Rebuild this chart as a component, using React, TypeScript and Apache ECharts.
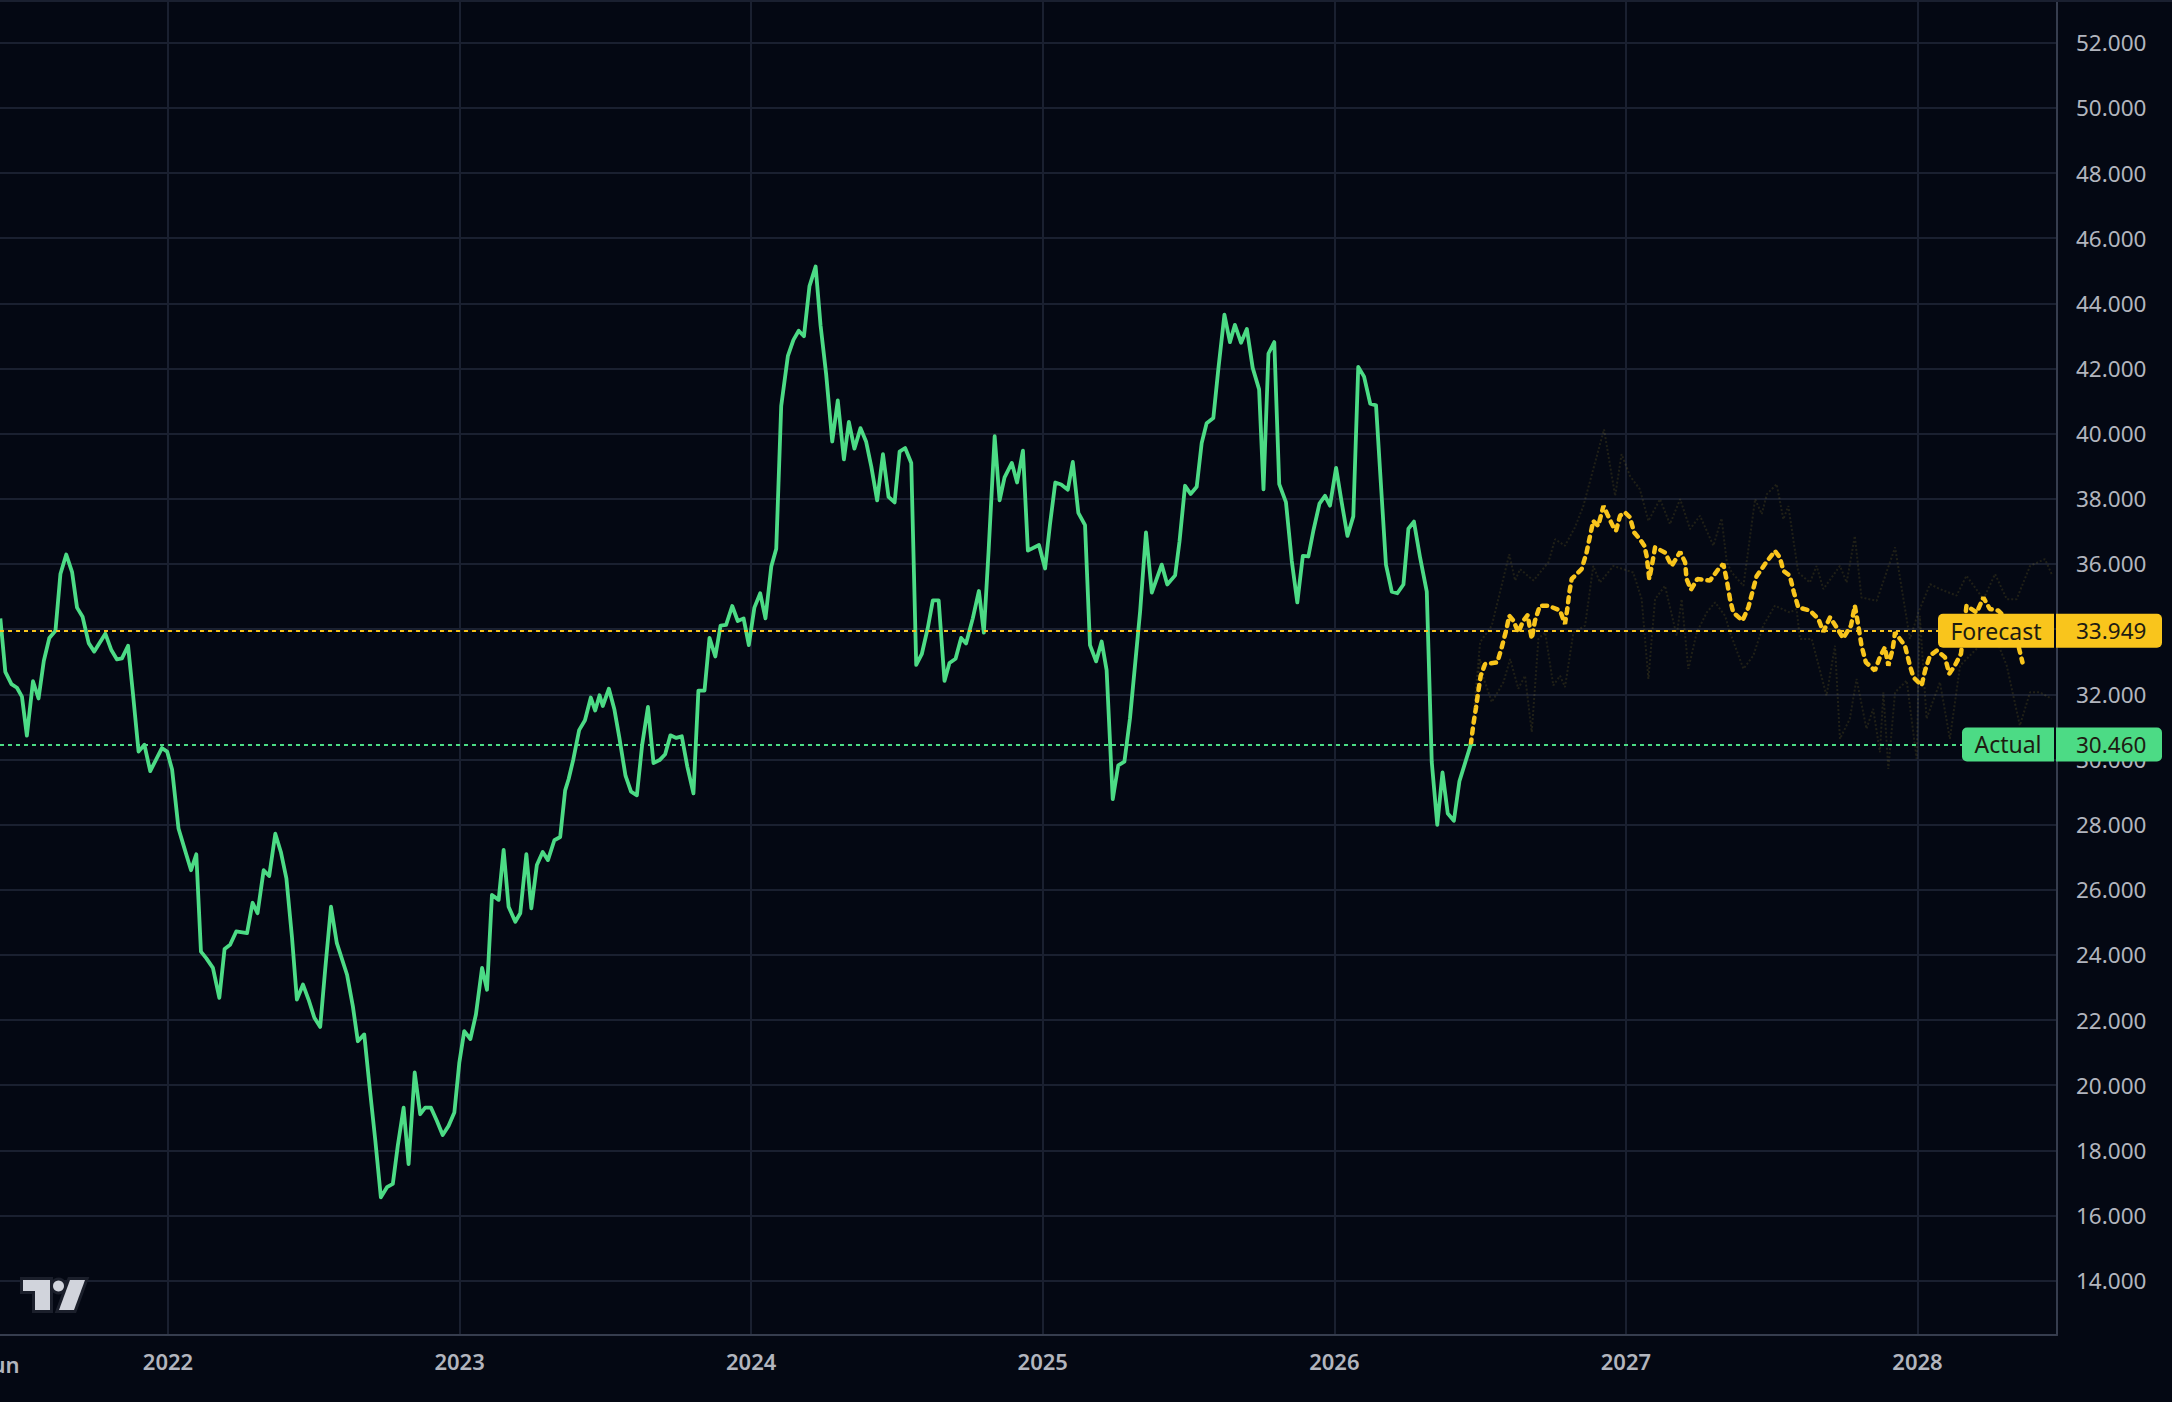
import React, { useEffect, useRef } from 'react';
import * as echarts from 'echarts';

// ---------- data ----------
const yearTicks = [2022, 2023, 2024, 2025, 2026, 2027, 2028];
const monthTick = 2021.4137; // 1 Jun 2021
const monthLabel = 'Jun';
const priceTicks = [14, 16, 18, 20, 22, 24, 26, 28, 30, 32, 34, 36, 38, 40, 42, 44, 46, 48, 50, 52];
const X_MIN = 2021.4238;
const X_MAX = 2028.4784;
const Y_MIN = 12.333;
const Y_MAX = 53.311;
const forecastLast = 33.949;
const actualLast = 30.46;
const forecastName = 'Forecast';
const actualName = 'Actual';

const actual2021 = [
  [2021.425, 34.33], [2021.442, 32.69], [2021.463, 32.31], [2021.482, 32.2], [2021.499, 31.93], [2021.516, 30.73],
  [2021.537, 32.4], [2021.556, 31.87], [2021.574, 33.02], [2021.593, 33.73], [2021.614, 33.95], [2021.631, 35.69],
  [2021.651, 36.29], [2021.671, 35.75], [2021.688, 34.66], [2021.707, 34.38], [2021.728, 33.57], [2021.747, 33.31],
  [2021.785, 33.86], [2021.806, 33.35], [2021.825, 33.07], [2021.842, 33.1], [2021.863, 33.49], [2021.879, 32.09],
  [2021.899, 30.24], [2021.919, 30.45], [2021.939, 29.64], [2021.979, 30.35], [2021.997, 30.24],
];
const actual2022 = [
  [2022.014, 29.69], [2022.036, 27.88], [2022.053, 27.37], [2022.079, 26.6], [2022.097, 27.09], [2022.113, 24.1],
  [2022.131, 23.9], [2022.154, 23.6], [2022.176, 22.68], [2022.194, 24.18], [2022.213, 24.31], [2022.234, 24.72],
  [2022.271, 24.67], [2022.29, 25.6], [2022.307, 25.28], [2022.328, 26.6], [2022.347, 26.42], [2022.368, 27.72],
  [2022.387, 27.16], [2022.406, 26.35], [2022.425, 24.56], [2022.442, 22.63], [2022.463, 23.09], [2022.482, 22.63],
  [2022.502, 22.07], [2022.522, 21.79], [2022.539, 23.55], [2022.559, 25.48], [2022.579, 24.36], [2022.614, 23.39],
  [2022.634, 22.42], [2022.651, 21.35], [2022.673, 21.56], [2022.691, 19.98], [2022.711, 18.3], [2022.73, 16.56],
  [2022.751, 16.87], [2022.771, 16.97], [2022.788, 18.14], [2022.808, 19.31], [2022.825, 17.58], [2022.846, 20.39],
  [2022.865, 19.11], [2022.882, 19.31], [2022.902, 19.31], [2022.922, 18.91], [2022.942, 18.47], [2022.962, 18.75],
  [2022.982, 19.16], [2022.999, 20.69],
];
const actual2023 = [
  [2023.016, 21.66], [2023.037, 21.42], [2023.056, 22.17], [2023.077, 23.6], [2023.094, 22.93], [2023.111, 25.84],
  [2023.134, 25.69], [2023.151, 27.22], [2023.168, 25.48], [2023.191, 25.02], [2023.208, 25.28], [2023.229, 27.09],
  [2023.246, 25.43], [2023.265, 26.76], [2023.285, 27.16], [2023.303, 26.91], [2023.325, 27.52], [2023.345, 27.62],
  [2023.362, 29.05], [2023.374, 29.4], [2023.39, 30.0], [2023.41, 30.9], [2023.43, 31.2], [2023.45, 31.9],
  [2023.465, 31.5], [2023.48, 31.97], [2023.491, 31.64], [2023.512, 32.17], [2023.531, 31.53], [2023.548, 30.66],
  [2023.569, 29.5], [2023.588, 29.01], [2023.608, 28.9], [2023.626, 30.44], [2023.646, 31.61], [2023.665, 29.89],
  [2023.686, 29.98], [2023.705, 30.16], [2023.723, 30.74], [2023.743, 30.66], [2023.762, 30.71], [2023.781, 29.78],
  [2023.802, 28.96], [2023.819, 32.11], [2023.84, 32.11], [2023.857, 33.73], [2023.877, 33.16], [2023.895, 34.11],
  [2023.914, 34.13], [2023.935, 34.71], [2023.954, 34.25], [2023.974, 34.33], [2023.992, 33.51],
];
const actual2024 = [
  [2024.011, 34.66], [2024.031, 35.1], [2024.049, 34.33], [2024.069, 35.92], [2024.086, 36.47], [2024.103, 40.85],
  [2024.126, 42.39], [2024.145, 42.88], [2024.163, 43.16], [2024.181, 42.99], [2024.2, 44.53], [2024.221, 45.13],
  [2024.238, 43.32], [2024.257, 41.84], [2024.278, 39.76], [2024.297, 41.02], [2024.318, 39.21], [2024.335, 40.36],
  [2024.354, 39.54], [2024.375, 40.17], [2024.394, 39.76], [2024.412, 38.99], [2024.432, 37.95], [2024.452, 39.37],
  [2024.471, 38.06], [2024.492, 37.89], [2024.509, 39.45], [2024.528, 39.56], [2024.549, 39.1], [2024.566, 32.9],
  [2024.585, 33.23], [2024.606, 34.05], [2024.623, 34.88], [2024.643, 34.88], [2024.663, 32.41], [2024.68, 32.96],
  [2024.701, 33.09], [2024.72, 33.73], [2024.737, 33.56], [2024.76, 34.33], [2024.781, 35.17], [2024.798, 33.89],
  [2024.814, 36.36], [2024.835, 39.92], [2024.852, 37.95], [2024.869, 38.66], [2024.894, 39.1], [2024.912, 38.5],
  [2024.932, 39.48], [2024.949, 36.41], [2024.987, 36.58],
];
const actual2025 = [
  [2025.008, 35.86], [2025.025, 37.23], [2025.043, 38.5], [2025.063, 38.44], [2025.086, 38.28], [2025.103, 39.13],
  [2025.122, 37.57], [2025.145, 37.19], [2025.162, 33.51], [2025.183, 33.01], [2025.202, 33.62], [2025.219, 32.74],
  [2025.24, 28.78], [2025.259, 29.82], [2025.28, 29.93], [2025.299, 31.25], [2025.334, 34.55], [2025.354, 36.97],
  [2025.374, 35.12], [2025.408, 35.98], [2025.427, 35.37], [2025.454, 35.65], [2025.469, 36.69], [2025.488, 38.4],
  [2025.507, 38.15], [2025.528, 38.37], [2025.545, 39.71], [2025.562, 40.32], [2025.585, 40.48], [2025.602, 41.97],
  [2025.623, 43.65], [2025.642, 42.81], [2025.659, 43.34], [2025.68, 42.79], [2025.7, 43.21], [2025.72, 42.02],
  [2025.742, 41.36], [2025.757, 38.29], [2025.774, 42.46], [2025.794, 42.81], [2025.811, 38.45], [2025.834, 37.9],
  [2025.854, 36.09], [2025.873, 34.82], [2025.892, 36.25], [2025.911, 36.23], [2025.928, 37.02], [2025.949, 37.85],
  [2025.968, 38.09], [2025.985, 37.79],
];
const actual2026 = [
  [2026.006, 38.95], [2026.025, 37.9], [2026.045, 36.86], [2026.065, 37.46], [2026.082, 42.05], [2026.102, 41.75],
  [2026.123, 40.92], [2026.143, 40.87], [2026.157, 38.84], [2026.177, 35.98], [2026.197, 35.15], [2026.216, 35.1],
  [2026.237, 35.37], [2026.254, 37.08], [2026.273, 37.3], [2026.294, 36.2], [2026.317, 35.15], [2026.334, 29.93],
  [2026.353, 27.99], [2026.371, 29.6], [2026.389, 28.34], [2026.41, 28.12], [2026.429, 29.33], [2026.468, 30.46],
];

const forecast2026 = [
  [2026.468, 30.46], [2026.477, 31.09], [2026.486, 31.6], [2026.494, 32.11], [2026.502, 32.57], [2026.517, 32.93],
  [2026.559, 32.98], [2026.574, 33.44], [2026.589, 33.95], [2026.6, 34.41], [2026.614, 34.26], [2026.631, 33.9],
  [2026.648, 34.26], [2026.663, 34.43], [2026.677, 33.7], [2026.688, 34.26], [2026.705, 34.72], [2026.734, 34.72],
  [2026.774, 34.57], [2026.791, 34.16], [2026.799, 34.62], [2026.806, 35.13], [2026.814, 35.54], [2026.848, 35.84],
  [2026.865, 36.35], [2026.877, 36.86], [2026.888, 37.32], [2026.905, 37.17], [2026.923, 37.78], [2026.936, 37.53],
  [2026.955, 37.17], [2026.966, 37.02], [2026.98, 37.48], [2026.997, 37.58],
];
const forecast2027 = [
  [2027.014, 37.43], [2027.028, 36.97], [2027.048, 36.76], [2027.063, 36.56], [2027.071, 36.25], [2027.08, 35.54],
  [2027.09, 36.0], [2027.1, 36.51], [2027.134, 36.35], [2027.157, 35.94], [2027.186, 36.37], [2027.203, 36.05],
  [2027.208, 35.54], [2027.223, 35.21], [2027.245, 35.54], [2027.288, 35.49], [2027.317, 35.84], [2027.334, 36.0],
  [2027.346, 35.49], [2027.357, 34.92], [2027.368, 34.51], [2027.4, 34.26], [2027.42, 34.67], [2027.435, 35.18],
  [2027.448, 35.62], [2027.477, 36.0], [2027.511, 36.4], [2027.528, 36.2], [2027.54, 35.79], [2027.562, 35.64],
  [2027.576, 35.13], [2027.591, 34.67], [2027.631, 34.57], [2027.66, 34.31], [2027.677, 33.92], [2027.7, 34.36],
  [2027.723, 34.05], [2027.745, 33.72], [2027.772, 34.11], [2027.785, 34.72], [2027.797, 34.11], [2027.808, 33.49],
  [2027.823, 32.98], [2027.854, 32.73], [2027.871, 33.14], [2027.888, 33.44], [2027.9, 32.88], [2027.915, 33.39],
  [2027.923, 33.9], [2027.957, 33.49], [2027.974, 32.88], [2027.986, 32.52],
];
const forecast2028 = [
  [2028.014, 32.27], [2028.026, 32.73], [2028.043, 33.19], [2028.066, 33.34], [2028.094, 33.14], [2028.109, 32.63],
  [2028.128, 32.88], [2028.149, 33.24], [2028.168, 34.72], [2028.203, 34.51], [2028.226, 34.97], [2028.248, 34.62],
  [2028.277, 34.57], [2028.306, 34.3], [2028.346, 33.49], [2028.36, 32.98],
];

const scenarioHigh = [
  [2026.468, 30.46], [2026.5, 33.6], [2026.54, 34.11], [2026.6, 36.3], [2026.62, 35.49], [2026.637, 35.84],
  [2026.683, 35.49], [2026.734, 36.05], [2026.757, 36.76], [2026.791, 36.56], [2026.825, 37.12], [2026.854, 37.78],
  [2026.888, 38.91], [2026.925, 40.13], [2026.963, 38.09], [2026.985, 39.37], [2027.014, 38.7], [2027.048, 38.29],
  [2027.077, 37.32], [2027.117, 37.99], [2027.151, 37.22], [2027.186, 37.99], [2027.22, 37.07], [2027.254, 37.48],
  [2027.3, 36.56], [2027.328, 37.4], [2027.346, 36.05], [2027.363, 35.74], [2027.403, 35.33], [2027.443, 37.99],
  [2027.466, 37.53], [2027.483, 38.14], [2027.517, 38.45], [2027.54, 37.37], [2027.557, 37.78], [2027.591, 35.74],
  [2027.631, 35.43], [2027.654, 35.94], [2027.677, 35.23], [2027.734, 35.94], [2027.757, 35.43], [2027.785, 36.86],
  [2027.808, 34.97], [2027.86, 34.87], [2027.923, 36.51], [2027.974, 33.7], [2028.003, 34.51], [2028.043, 35.38],
  [2028.077, 35.23], [2028.134, 35.03], [2028.168, 35.64], [2028.226, 34.92], [2028.266, 35.69], [2028.306, 34.92],
  [2028.34, 34.92], [2028.386, 35.94], [2028.437, 36.15], [2028.46, 35.69],
];
const scenarioLow = [
  [2026.468, 30.46], [2026.5, 33.08], [2026.511, 32.52], [2026.54, 31.76], [2026.58, 32.37], [2026.603, 33.08],
  [2026.631, 32.17], [2026.654, 32.57], [2026.677, 30.84], [2026.7, 33.7], [2026.723, 33.9], [2026.751, 32.27],
  [2026.774, 32.57], [2026.791, 32.22], [2026.82, 33.9], [2026.86, 34.11], [2026.888, 35.94], [2026.911, 35.43],
  [2026.957, 35.94], [2026.991, 35.84], [2027.025, 35.74], [2027.054, 34.92], [2027.077, 32.47], [2027.1, 34.92],
  [2027.134, 35.33], [2027.174, 33.8], [2027.191, 34.92], [2027.214, 32.78], [2027.243, 33.9], [2027.277, 34.51],
  [2027.306, 34.82], [2027.34, 34.41], [2027.357, 33.9], [2027.403, 32.78], [2027.437, 33.19], [2027.471, 34.11],
  [2027.511, 34.72], [2027.562, 34.51], [2027.585, 34.62], [2027.597, 33.7], [2027.637, 33.7], [2027.688, 31.96],
  [2027.717, 33.49], [2027.734, 30.63], [2027.768, 31.25], [2027.791, 32.47], [2027.825, 30.94], [2027.848, 31.55],
  [2027.871, 30.22], [2027.883, 32.06], [2027.9, 29.71], [2027.923, 32.06], [2027.963, 32.42], [2027.997, 30.02],
  [2028.008, 34.41], [2028.031, 31.25], [2028.077, 32.37], [2028.111, 30.63], [2028.146, 32.88], [2028.191, 33.29],
  [2028.26, 33.9], [2028.306, 32.88], [2028.351, 31.04], [2028.386, 32.06], [2028.42, 32.06], [2028.46, 31.86],
];

// ---------- styles ----------
const BG = '#040813';
const GRID = '#1a2030';
const AXIS = '#363d4e';
const TEXT = '#b2b5be';
const GREEN = '#4cdb85';
const YELLOW = '#f9c51c';
const DIM = 'rgba(235, 205, 60, 0.12)';
const FONT = "'Noto Sans', 'Open Sans', sans-serif";

const actualData = [...actual2021, ...actual2022, ...actual2023, ...actual2024, ...actual2025, ...actual2026];
const forecastData = [...forecast2026, ...forecast2027, ...forecast2028];

const option: any = {
  animation: false,
  backgroundColor: BG,
  grid: { left: 0, right: 115, top: 0, bottom: 67, containLabel: false },
  xAxis: {
    type: 'value',
    min: X_MIN,
    max: X_MAX,
    axisLine: { show: true, lineStyle: { color: AXIS, width: 2 } },
    axisTick: { show: false, customValues: yearTicks },
    axisLabel: {
      customValues: yearTicks,
      formatter: (v: number) => String(Math.round(v)),
      color: TEXT,
      fontSize: 22,
      fontWeight: 600,
      fontFamily: FONT,
      margin: 15,
    },
    splitLine: { show: true, lineStyle: { color: GRID, width: 2 } },
  },
  yAxis: {
    type: 'value',
    position: 'right',
    min: Y_MIN,
    max: Y_MAX,
    axisLine: { show: true, lineStyle: { color: AXIS, width: 2 } },
    axisTick: { show: false, customValues: priceTicks },
    axisLabel: {
      customValues: priceTicks,
      formatter: (v: number) => v.toFixed(3),
      color: TEXT,
      fontSize: 22.5,
      fontFamily: FONT,
      margin: 19,
    },
    splitLine: { show: true, lineStyle: { color: GRID, width: 2 } },
  },
  series: [
    {
      type: 'line',
      data: scenarioHigh,
      showSymbol: false,
      silent: true,
      lineStyle: { color: DIM, width: 2, type: [2, 2] },
      markLine: {
        silent: true,
        symbol: ['none', 'none'],
        label: { show: false },
        data: [
          { yAxis: forecastLast, lineStyle: { color: YELLOW, width: 2, type: [4, 4] } },
          { yAxis: actualLast, lineStyle: { color: GREEN, width: 2, type: [4, 4] } },
        ],
      },
    },
    {
      type: 'line',
      data: scenarioLow,
      showSymbol: false,
      silent: true,
      lineStyle: { color: DIM, width: 2, type: [2, 2] },
    },
    {
      type: 'line',
      data: forecastData,
      showSymbol: false,
      silent: true,
      lineStyle: { color: YELLOW, width: 4.5, type: [5, 6], cap: 'round' },
    },
    {
      type: 'line',
      data: actualData,
      showSymbol: false,
      silent: true,
      lineStyle: { color: GREEN, width: 3.8, join: 'round' },
    },
  ],
};

function tag(axisX: number, y: number, name: string, nameWidth: number, value: number, color: string) {
  const h = 34;
  return [
    { type: 'rect', z: 100, shape: { x: axisX - 3 - nameWidth, y: y - h / 2, width: nameWidth, height: h, r: [5, 0, 0, 5] }, style: { fill: color } },
    { type: 'rect', z: 100, shape: { x: axisX - 1, y: y - h / 2, width: 106, height: h, r: [0, 5, 5, 0] }, style: { fill: color } },
    { type: 'text', z: 101, style: { text: name, x: axisX - 3 - nameWidth / 2, y, textAlign: 'center', textVerticalAlign: 'middle', fill: '#1e1c12', font: `23px ${FONT}` } },
    { type: 'text', z: 101, style: { text: value.toFixed(3), x: axisX + 19, y, textAlign: 'left', textVerticalAlign: 'middle', fill: '#1e1c12', font: `22.5px ${FONT}` } },
  ];
}

export default function App() {
  const ref = useRef<HTMLDivElement>(null);
  useEffect(() => {
    document.body.style.margin = '0';
    document.body.style.background = BG;
    const chart = echarts.init(ref.current as HTMLDivElement, null, { renderer: 'svg' });
    chart.setOption(option);
    const px = (v: number) => chart.convertToPixel({ xAxisIndex: 0 }, v) as number;
    const py = (v: number) => chart.convertToPixel({ yAxisIndex: 0 }, v) as number;
    const axisX = px(X_MAX);
    const baseY = py(Y_MIN);
    const logoFill = '#d1d4dc';
    const logoEdge = '#1b1f2b';
    const logoShapes = (fill: string, stroke: string, lw: number, z: number) => [
      { type: 'rect', z, shape: { x: 23, y: 1280, width: 27, height: 11 }, style: { fill, stroke, lineWidth: lw } },
      { type: 'rect', z, shape: { x: 35, y: 1280, width: 15, height: 30 }, style: { fill, stroke, lineWidth: lw } },
      { type: 'circle', z, shape: { cx: 58.5, cy: 1286, r: 5.5 }, style: { fill, stroke, lineWidth: lw } },
      { type: 'polygon', z, shape: { points: [[70, 1280], [85, 1280], [74, 1310], [59, 1310]] }, style: { fill, stroke, lineWidth: lw } },
    ];
    chart.setOption({
      graphic: {
        elements: [
          { type: 'line', z: 50, shape: { x1: 0, y1: 1, x2: 2172, y2: 1 }, style: { stroke: GRID, lineWidth: 2 } },
          ...logoShapes(logoEdge, logoEdge, 6, 60),
          ...logoShapes(logoFill, 'none', 0, 61),
          {
            type: 'text', z: 60,
            style: { text: monthLabel, x: px(monthTick) + 5, y: baseY + 29, textAlign: 'center', textVerticalAlign: 'middle', fill: TEXT, font: `600 22px ${FONT}` },
          },
          ...tag(axisX, py(forecastLast), forecastName, 116, forecastLast, YELLOW),
          ...tag(axisX, py(actualLast), actualName, 92, actualLast, GREEN),
        ],
      },
    });
    return () => chart.dispose();
  }, []);
  return <div ref={ref} style={{ position: 'absolute', left: 0, top: 0, width: 2172, height: 1402 }} />;
}
